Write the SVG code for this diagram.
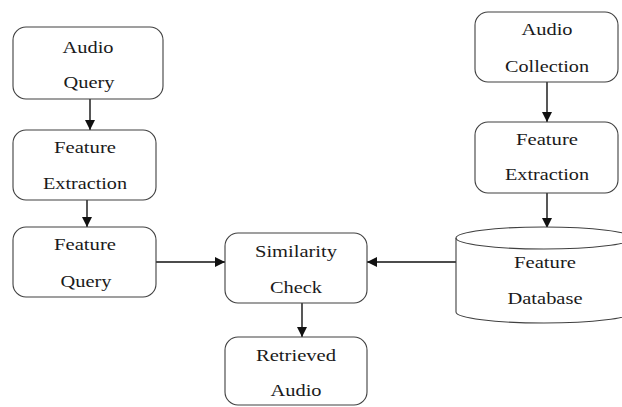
<svg xmlns="http://www.w3.org/2000/svg" width="622" height="407" viewBox="0 0 622 407">
  <style>
    .box { fill: #ffffff; stroke: #404040; stroke-width: 1.1; }
    .lbl { font-family: "Liberation Serif", "Times New Roman", serif; font-size: 16px; fill: #1a1a1a; text-anchor: middle; }
    .edge { fill: none; stroke: #111111; stroke-width: 1.4; }
  </style>
  <defs>
    <marker id="arrow" viewBox="0 0 10 10" refX="10" refY="5" markerWidth="10" markerHeight="10" markerUnits="userSpaceOnUse" orient="auto">
      <path d="M0,0 L10,5 L0,10 Z" fill="#111111"/>
    </marker>
  </defs>
  <rect width="622" height="407" fill="#ffffff"/>

  <g id="connectors">
    <line class="edge" x1="90" y1="99" x2="90" y2="130" marker-end="url(#arrow)"/>
    <line class="edge" x1="87" y1="200" x2="87" y2="227" marker-end="url(#arrow)"/>
    <line class="edge" x1="156" y1="262" x2="225" y2="262" marker-end="url(#arrow)"/>
    <line class="edge" x1="456" y1="262" x2="367" y2="262" marker-end="url(#arrow)"/>
    <line class="edge" x1="302" y1="303" x2="302" y2="337" marker-end="url(#arrow)"/>
    <line class="edge" x1="547" y1="82" x2="547" y2="122" marker-end="url(#arrow)"/>
    <line class="edge" x1="547" y1="193" x2="547" y2="228" marker-end="url(#arrow)"/>
  </g>

  <g id="audio-query">
    <rect class="box" x="13" y="27" width="150" height="72" rx="13"/>
    <text class="lbl" x="88" y="53" textLength="51" lengthAdjust="spacingAndGlyphs">Audio</text>
    <text class="lbl" x="89" y="88" textLength="51" lengthAdjust="spacingAndGlyphs">Query</text>
  </g>

  <g id="feature-extraction-query">
    <rect class="box" x="13" y="130" width="143" height="70" rx="13"/>
    <text class="lbl" x="85" y="153" textLength="62" lengthAdjust="spacingAndGlyphs">Feature</text>
    <text class="lbl" x="85" y="189" textLength="84" lengthAdjust="spacingAndGlyphs">Extraction</text>
  </g>

  <g id="feature-query">
    <rect class="box" x="13" y="227" width="143" height="70" rx="13"/>
    <text class="lbl" x="85" y="250" textLength="62" lengthAdjust="spacingAndGlyphs">Feature</text>
    <text class="lbl" x="86" y="287" textLength="51" lengthAdjust="spacingAndGlyphs">Query</text>
  </g>

  <g id="similarity-check">
    <rect class="box" x="225" y="233" width="142" height="70" rx="13"/>
    <text class="lbl" x="296" y="257" textLength="82" lengthAdjust="spacingAndGlyphs">Similarity</text>
    <text class="lbl" x="296" y="293" textLength="52" lengthAdjust="spacingAndGlyphs">Check</text>
  </g>

  <g id="retrieved-audio">
    <rect class="box" x="225" y="337" width="142" height="68" rx="13"/>
    <text class="lbl" x="296" y="361" textLength="80" lengthAdjust="spacingAndGlyphs">Retrieved</text>
    <text class="lbl" x="296" y="396" textLength="51" lengthAdjust="spacingAndGlyphs">Audio</text>
  </g>

  <g id="audio-collection">
    <rect class="box" x="475" y="12" width="143" height="70" rx="13"/>
    <text class="lbl" x="547" y="35" textLength="51" lengthAdjust="spacingAndGlyphs">Audio</text>
    <text class="lbl" x="547" y="72" textLength="84" lengthAdjust="spacingAndGlyphs">Collection</text>
  </g>

  <g id="feature-extraction-collection">
    <rect class="box" x="475" y="122" width="143" height="71" rx="13"/>
    <text class="lbl" x="547" y="145" textLength="62" lengthAdjust="spacingAndGlyphs">Feature</text>
    <text class="lbl" x="547" y="180" textLength="84" lengthAdjust="spacingAndGlyphs">Extraction</text>
  </g>

  <g id="feature-database">
    <path class="box" d="M456,238 L456,312 A88,11 0 0 0 632,312 L632,238 A88,11 0 0 0 456,238 Z"/>
    <path class="box" style="fill:none" d="M456,238 A88,11 0 0 0 632,238"/>
    <text class="lbl" x="545" y="268" textLength="62" lengthAdjust="spacingAndGlyphs">Feature</text>
    <text class="lbl" x="545" y="304" textLength="75" lengthAdjust="spacingAndGlyphs">Database</text>
  </g>
</svg>
